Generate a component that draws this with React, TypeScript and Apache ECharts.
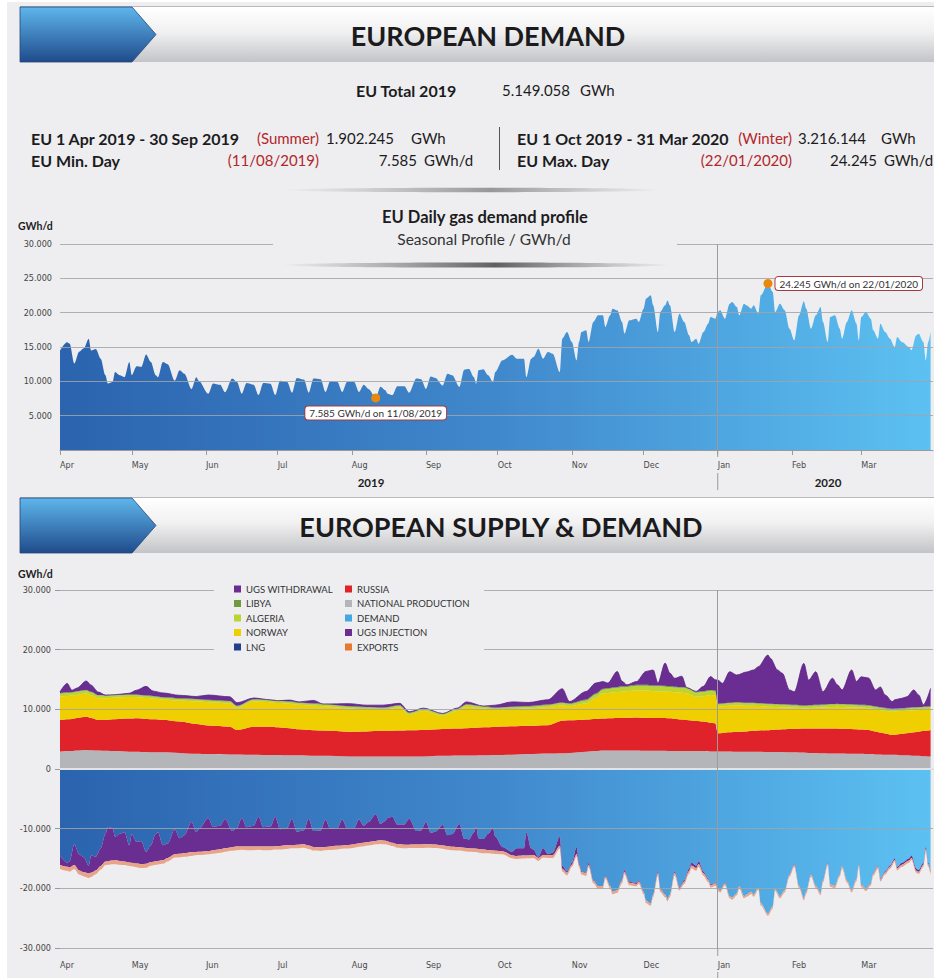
import React, { useEffect, useRef } from 'react';
import * as echarts from 'echarts';

// ---------------- DATA ----------------
// Daily EU gas demand (GWh/d), read from the seasonal profile
const demandDates = [
  '2019-04-01','2019-04-04','2019-04-05','2019-04-07','2019-04-09','2019-04-11','2019-04-13','2019-04-14','2019-04-16','2019-04-18','2019-04-20','2019-04-21','2019-04-23','2019-04-24','2019-04-26','2019-04-28','2019-04-30',
  '2019-05-01','2019-05-03','2019-05-05','2019-05-07','2019-05-09','2019-05-11','2019-05-12','2019-05-14','2019-05-16','2019-05-19','2019-05-21','2019-05-23','2019-05-26','2019-05-28','2019-05-29',
  '2019-06-02','2019-06-04','2019-06-07','2019-06-09','2019-06-12','2019-06-14','2019-06-16','2019-06-18','2019-06-21','2019-06-23','2019-06-25','2019-06-28','2019-06-30',
  '2019-07-02','2019-07-05','2019-07-07','2019-07-09','2019-07-12','2019-07-14','2019-07-16','2019-07-19','2019-07-21','2019-07-23','2019-07-26','2019-07-28','2019-07-30',
  '2019-08-02','2019-08-04','2019-08-06','2019-08-08','2019-08-11','2019-08-13','2019-08-15','2019-08-16','2019-08-18','2019-08-20','2019-08-23','2019-08-25','2019-08-28','2019-08-30',
  '2019-09-01','2019-09-03','2019-09-05','2019-09-08','2019-09-10','2019-09-12','2019-09-15','2019-09-17','2019-09-19','2019-09-21','2019-09-22','2019-09-23','2019-09-25','2019-09-27','2019-09-29','2019-09-30',
  '2019-10-03','2019-10-07','2019-10-09','2019-10-12','2019-10-13','2019-10-15','2019-10-16','2019-10-18','2019-10-20','2019-10-22','2019-10-24','2019-10-27','2019-10-28','2019-10-30',
  '2019-11-01','2019-11-03','2019-11-04','2019-11-05','2019-11-07','2019-11-08','2019-11-10','2019-11-12','2019-11-14','2019-11-15','2019-11-17','2019-11-18','2019-11-20','2019-11-22','2019-11-23','2019-11-25','2019-11-28','2019-11-29',
  '2019-12-01','2019-12-02','2019-12-04','2019-12-05','2019-12-07','2019-12-08','2019-12-10','2019-12-11','2019-12-12','2019-12-14','2019-12-16','2019-12-18','2019-12-20','2019-12-21','2019-12-23','2019-12-24','2019-12-26','2019-12-28','2019-12-29','2019-12-31',
  '2020-01-01','2020-01-02','2020-01-04','2020-01-06','2020-01-07','2020-01-09','2020-01-10','2020-01-12','2020-01-13','2020-01-15','2020-01-16','2020-01-18','2020-01-19','2020-01-22','2020-01-24','2020-01-25','2020-01-27','2020-01-29','2020-01-31',
  '2020-02-02','2020-02-04','2020-02-06','2020-02-07','2020-02-09','2020-02-11','2020-02-13','2020-02-14','2020-02-16','2020-02-17','2020-02-19','2020-02-21','2020-02-22','2020-02-24','2020-02-26','2020-02-28','2020-02-29',
  '2020-03-01','2020-03-03','2020-03-05','2020-03-06','2020-03-08','2020-03-09','2020-03-11','2020-03-13','2020-03-15','2020-03-16','2020-03-18','2020-03-21','2020-03-22','2020-03-24','2020-03-25','2020-03-27','2020-03-28','2020-03-29','2020-03-30',
];
const demandValues = [
  14500,15700,15500,12600,14300,14800,16200,14500,14700,13300,10900,9700,9900,11350,10870,10600,12800,
  10900,12200,12100,13900,12800,10900,10600,12800,12500,10100,11600,11100,8900,10600,10100,
  8200,9700,9500,8400,10400,9900,8200,9750,9500,8000,9750,9650,8000,
  10100,9900,8350,10500,10250,8350,10400,10300,8450,10050,9900,8450,9900,
  9900,8450,9500,8900,7585,9200,8700,8200,8000,9300,9300,8350,10400,10300,
  8900,10700,10500,9400,11100,10900,9200,11700,11800,10630,9660,11600,11750,10870,9900,11360,
  13060,13880,13300,13300,10630,13300,13540,14760,13300,14270,14030,11360,16210,17180,
  15730,13060,15730,17180,17430,15730,18640,19610,19610,17910,19610,20580,20340,18640,16940,18880,19120,18640,
  20580,22040,22520,21070,17180,20100,21070,21790,21070,17180,19850,18640,16700,15730,16210,15480,17180,18400,19370,19120,
  20100,20340,19120,21310,21550,20820,19610,21310,21070,20580,21070,19850,22520,24245,23010,20100,21310,20340,17670,
  15970,19610,21650,20580,17670,19610,20820,18640,15730,19370,19610,17670,16210,18640,20340,18400,15970,
  19370,20100,19120,17430,16210,18400,17180,16210,15000,16450,15730,15000,14510,16700,16940,15730,13060,15730,17180,
];
const injectionValues = [
  1600,700,1000,3500,2700,2500,1300,2900,2300,2950,4600,5750,5450,3950,4530,4900,2850,
  4800,3650,3850,2000,2800,4550,4800,2500,2400,4200,2600,3000,5070,3300,3780,
  5540,3900,3930,4900,2720,3100,4800,3250,3500,5000,3250,3350,4950,
  2790,2900,4390,2190,2350,4490,2680,2830,4610,2940,2980,4360,2840,
  2700,4030,2860,3340,4485,2760,3310,3930,4360,3290,3390,4330,2260,2340,
  3730,1910,2160,3430,1840,2130,3930,1500,1470,2710,3720,1820,1750,2710,3750,2330,
  740,560,1280,1210,3860,1140,880,150,1100,130,400,1500,500,200,
  300,1200,300,100,100,300,100,50,0,100,0,0,0,100,300,200,150,200,
  0,0,0,0,300,100,0,0,0,250,100,250,400,450,400,450,300,150,100,50,
  0,0,50,0,0,0,50,0,0,0,0,50,0,0,0,0,0,0,50,
  100,0,0,0,50,0,0,50,100,0,0,50,100,50,0,50,100,
  50,0,50,100,150,100,150,200,250,200,300,350,400,350,300,300,400,250,200,
];
const exportValues = [
  650,650,700,650,700,700,750,700,650,650,600,600,600,650,650,600,600,
  600,600,650,650,600,600,600,600,600,550,600,600,600,550,550,
  550,600,600,550,600,600,550,600,600,550,600,600,550,
  600,600,550,600,600,550,600,600,550,600,600,550,600,
  600,550,600,600,550,600,600,550,550,600,600,550,600,600,
  550,600,600,550,600,600,550,600,600,550,550,600,600,550,550,550,
  500,500,500,500,450,500,500,500,450,500,500,450,450,450,
  400,400,400,400,400,400,400,400,400,400,400,400,400,400,400,400,400,400,
  400,400,400,400,400,400,400,400,400,400,400,400,450,450,450,450,400,400,400,400,
  350,350,350,350,350,350,350,350,350,350,350,350,350,350,350,350,350,350,350,
  350,350,350,350,350,350,350,350,350,350,350,350,350,350,350,350,350,
  350,350,350,350,350,350,350,350,350,350,350,350,350,350,350,350,350,350,350,
];

// Supply components (GWh/d)
const supplyDates = [
  '2019-04-01','2019-04-04','2019-04-06','2019-04-08','2019-04-12','2019-04-14','2019-04-17','2019-04-20','2019-04-24','2019-04-30',
  '2019-05-03','2019-05-07','2019-05-10','2019-05-14','2019-05-21','2019-05-28',
  '2019-06-02','2019-06-11','2019-06-14','2019-06-21','2019-06-28',
  '2019-07-01','2019-07-06','2019-07-10','2019-07-16','2019-07-20','2019-07-31',
  '2019-08-07','2019-08-14','2019-08-21','2019-08-25','2019-08-31',
  '2019-09-08','2019-09-14','2019-09-18','2019-09-25','2019-09-30',
  '2019-10-07','2019-10-14','2019-10-22','2019-10-28','2019-10-31',
  '2019-11-07','2019-11-11','2019-11-14','2019-11-16','2019-11-20','2019-11-22','2019-11-24','2019-11-28',
  '2019-12-02','2019-12-05','2019-12-07','2019-12-10','2019-12-12','2019-12-14','2019-12-17','2019-12-19','2019-12-23','2019-12-26','2019-12-29','2019-12-31',
  '2020-01-01','2020-01-03','2020-01-06','2020-01-09','2020-01-13','2020-01-16','2020-01-18','2020-01-22','2020-01-23','2020-01-26','2020-01-28','2020-01-31',
  '2020-02-02','2020-02-06','2020-02-08','2020-02-11','2020-02-14','2020-02-18','2020-02-20','2020-02-22','2020-02-26','2020-02-28',
  '2020-03-01','2020-03-04','2020-03-07','2020-03-09','2020-03-11','2020-03-14','2020-03-15','2020-03-18','2020-03-20','2020-03-23','2020-03-25','2020-03-27','2020-03-30',
];
const nationalValues = [
  2900,3000,3000,3100,3200,3150,3100,3050,3000,2900,
  2900,2850,2800,2800,2700,2550,
  2500,2450,2450,2400,2350,
  2350,2300,2300,2200,2200,2100,
  2100,2100,2100,2100,2100,
  2200,2250,2250,2300,2350,
  2400,2500,2600,2650,2700,
  2900,3000,3100,3100,3100,3100,3100,3100,
  3050,3050,3050,3050,3000,3000,3000,3000,3000,3000,2950,2950,
  2950,2950,2950,2900,2900,2900,2900,2850,2850,2850,2850,2800,
  2800,2750,2700,2700,2650,2600,2600,2600,2550,2550,
  2550,2500,2450,2450,2400,2400,2400,2300,2300,2200,2200,2150,2100,
];
const russiaValues = [
  5300,5350,5400,5450,5550,5400,5100,5200,5350,5550,
  5600,5550,5550,5450,5250,5000,
  4800,4650,4100,4700,4750,
  4650,4550,4350,4300,4250,4150,
  4200,4300,4350,4400,4450,
  4500,4550,4600,4700,4700,
  4750,4750,4750,5450,5450,
  5400,5400,5350,5400,5450,5500,5500,5550,
  5550,5500,5500,5500,5500,5400,5300,5200,5050,4950,4800,4700,
  3050,3100,3200,3350,3400,3500,3550,3650,3700,3750,3800,3900,
  3950,4050,4100,4100,4150,4200,4200,4150,4150,4100,
  4050,4050,3850,3650,3550,3300,3350,3600,3700,3950,4050,4200,4450,
];
const lngValues: number[] = []; // not visible in the stacked profile
const norwayValues = [
  3900,3900,3900,3900,3900,3800,3650,3600,3600,3600,
  3550,3500,3450,3400,3500,3800,
  3900,3900,3650,4200,4100,
  4050,4100,4100,4100,4050,3900,
  3700,3500,3850,2550,3150,
  2200,2900,3600,3150,2850,
  2900,2900,3050,2600,2350,
  2700,3500,4250,4250,4350,4400,4450,4550,
  4550,4500,4500,4450,4450,4450,4500,4500,4050,4250,4650,4650,
  4450,4450,4450,4450,4300,4200,4100,3950,3900,3800,3700,3600,
  3500,3350,3400,3450,3500,3600,3650,3650,3650,3650,
  3650,3650,3700,3750,3800,3900,3900,3800,3750,3700,3650,3600,3450,
];
const algeriaValues = [
  500,500,500,500,500,500,450,400,400,350,
  350,350,350,300,300,300,
  300,300,300,300,300,
  300,300,300,300,300,300,
  300,300,300,300,300,
  300,300,300,300,300,
  300,300,300,350,400,
  500,600,600,650,700,700,700,750,
  800,800,800,800,800,800,800,800,700,700,700,700,
  400,400,400,400,400,400,400,400,400,400,400,400,
  400,400,400,400,400,400,400,400,400,400,
  400,400,400,400,400,400,400,400,400,400,400,400,400,
];
const libyaValues = [
  100,100,100,100,100,100,100,100,100,100,
  100,100,100,100,100,100,
  100,100,100,100,100,
  100,100,100,100,100,100,
  100,100,100,100,100,
  100,100,100,100,100,
  100,100,100,100,100,
  150,150,150,150,150,150,150,150,
  150,150,150,150,150,150,150,150,150,150,150,150,
  100,100,100,100,100,100,100,100,100,100,100,100,
  100,100,100,100,100,100,100,100,100,100,
  100,100,100,100,100,100,100,100,100,100,100,100,100,
];
const withdrawalValues = [
  250,1500,300,500,1500,1100,500,50,0,200,
  700,1500,800,700,500,400,
  800,700,500,200,0,
  0,200,100,500,0,400,
  300,400,300,150,100,
  0,100,400,0,400,
  800,600,800,2300,300,
  1350,1750,1200,850,2600,850,200,550,
  2250,2600,400,3800,2150,1400,1800,0,50,800,2250,1800,
  3950,3350,5200,4550,5150,5500,6100,8150,7600,5700,5200,2450,
  2200,7050,4200,5550,2150,4300,3150,2350,5750,3850,
  4700,4550,2750,3400,2150,1200,1450,1650,1850,2900,2000,300,3000,
];

const monthNames = ['Jan','Feb','Mar','Apr','May','Jun','Jul','Aug','Sep','Oct','Nov','Dec'];
const topGridValues = [5000, 10000, 15000, 20000, 25000, 30000];
const bottomGridValues = [-30000, -20000, -10000, 10000, 20000, 30000];
const legendLeft = ['UGS WITHDRAWAL', 'LIBYA', 'ALGERIA', 'NORWAY', 'LNG'];
const legendRight = ['RUSSIA', 'NATIONAL PRODUCTION', 'DEMAND', 'UGS INJECTION', 'EXPORTS'];

// ---------------- STYLE ----------------
const FONT = 'Lato, "Open Sans", sans-serif';
const NARROW = '"Liberation Sans Narrow", "Arial Narrow", "DejaVu Sans Condensed", Lato, sans-serif';
const BG = '#eeeef0';
const RED_TXT = '#b3262b';
const C = {
  purple: '#6a2d92',
  libya: '#6f9a3e',
  algeria: '#bcd431',
  norway: '#f0cf00',
  lng: '#223f8c',
  russia: '#e0232a',
  national: '#b4b5b8',
  demand: '#45a8e3',
  exports: '#e8782e',
};

const fmt = (v: number) => {
  const s = Math.abs(Math.round(v)).toString().replace(/\B(?=(\d{3})+(?!\d))/g, '.');
  return (v < 0 ? '-' : '') + s;
};
const dmy = (d: string) => {
  const [y, m, dd] = d.split('-');
  return `${dd}/${m}/${y}`;
};
const pairs = (dates: string[], vals: number[], sign = 1) => dates.map((d, i) => [d, sign * vals[i]]);

const blueGradient = () =>
  new echarts.graphic.LinearGradient(0, 0, 1, 0, [
    { offset: 0, color: '#2b63ae' },
    { offset: 0.5, color: '#4088cc' },
    { offset: 1, color: '#5cc1f2' },
  ]);

function buildOption() {
  let minIdx = 0;
  let maxIdx = 0;
  demandValues.forEach((v, i) => {
    if (v < demandValues[minIdx]) minIdx = i;
    if (v > demandValues[maxIdx]) maxIdx = i;
  });

  const gridLine = { color: '#a3a3a6', width: 1, type: 'solid' as const, opacity: 0.85 };
  const markLineBase = {
    silent: true,
    symbol: ['none', 'none'],
    label: { show: false },
    emphasis: { disabled: true },
    lineStyle: gridLine,
  };

  const xAxisBase = (gridIndex: number, margin: number) => ({
    type: 'time' as const,
    gridIndex,
    min: '2019-04-01',
    max: '2020-03-31',
    minInterval: 28 * 86400000,
    maxInterval: 31 * 86400000,
    splitLine: { show: false },
    axisLine: { show: true, lineStyle: { color: '#9a9a9c' } },
    axisTick: { show: true, length: 5, lineStyle: { color: '#9a9a9c' } },
    axisLabel: {
      show: true,
      showMaxLabel: false,
      align: 'left' as const,
      margin,
      fontSize: 9,
      fontFamily: NARROW,
      color: '#4a4a4a',
      formatter: (v: number) => monthNames[new Date(v).getMonth()],
    },
  });

  const areaSeries = (name: string, dates: string[], vals: number[], color: string, stack: string | undefined, sign = 1, extra: any = {}) => ({
    type: 'line',
    name,
    xAxisIndex: 1,
    yAxisIndex: 1,
    stack,
    data: pairs(dates, vals, sign),
    smooth: 0.3,
    smoothMonotone: 'x',
    symbol: 'none',
    showSymbol: false,
    itemStyle: { color },
    lineStyle: { width: 0, color },
    areaStyle: { color, opacity: 1 },
    emphasis: { disabled: true },
    ...extra,
  });

  const legendBase = {
    orient: 'vertical',
    top: 579,
    z: 30,
    icon: 'rect',
    itemWidth: 7,
    itemHeight: 7,
    itemGap: 4.5,
    selectedMode: false,
    textStyle: { fontSize: 9.5, lineHeight: 10, color: '#333', fontFamily: FONT },
  };

  return {
    animation: false,
    backgroundColor: BG,
    textStyle: { fontFamily: FONT },
    grid: [
      { left: 60, top: 244, width: 873, height: 206 },
      { left: 60, top: 590, width: 873, height: 358 },
    ],
    xAxis: [xAxisBase(0, 10), xAxisBase(1, 12)],
    yAxis: [
      {
        type: 'value',
        gridIndex: 0,
        min: 0,
        max: 30000,
        interval: 5000,
        splitLine: { show: false },
        axisLine: { show: false },
        axisTick: { show: false },
        axisLabel: {
          margin: 8,
          fontSize: 9,
          fontFamily: NARROW,
          color: '#444',
          formatter: (v: number) => (v === 0 ? '' : fmt(v)),
        },
      },
      {
        type: 'value',
        gridIndex: 1,
        min: -30000,
        max: 30000,
        interval: 10000,
        splitLine: { show: false },
        axisLine: { show: false },
        axisTick: { show: true, length: 5, lineStyle: { color: '#9a9a9c' } },
        axisLabel: {
          margin: 9,
          fontSize: 9,
          fontFamily: NARROW,
          color: '#444',
          formatter: (v: number) => fmt(v),
        },
      },
    ],
    legend: [
      { ...legendBase, data: legendLeft, left: 229 },
      { ...legendBase, data: legendRight, left: 340 },
    ],
    series: [
      {
        type: 'line',
        name: 'EU daily demand',
        xAxisIndex: 0,
        yAxisIndex: 0,
        data: pairs(demandDates, demandValues),
        smooth: 0.3,
        smoothMonotone: 'x',
        symbol: 'none',
        lineStyle: { width: 0 },
        areaStyle: { color: blueGradient(), opacity: 1 },
        emphasis: { disabled: true },
        markLine: {
          ...markLineBase,
          data: [
            ...topGridValues.map((v) => ({ yAxis: v })),
            { xAxis: '2020-01-01', lineStyle: { color: '#9b9b9d', width: 1, opacity: 1 } },
          ],
        },
        markPoint: {
          silent: true,
          symbol: 'circle',
          symbolSize: 9,
          itemStyle: { color: '#e8890c' },
          label: {
            show: true,
            color: '#333',
            fontSize: 10,
            fontFamily: FONT,
            backgroundColor: '#ffffff',
            borderColor: '#a8383e',
            borderWidth: 1,
            borderRadius: 3,
            padding: [2, 4, 1, 4],
          },
          data: [
            {
              coord: [demandDates[minIdx], demandValues[minIdx]],
              label: { position: 'bottom', distance: 4, formatter: `${fmt(demandValues[minIdx])} GWh/d on ${dmy(demandDates[minIdx])}` },
            },
            {
              coord: [demandDates[maxIdx], demandValues[maxIdx]],
              label: { position: 'right', distance: 3, formatter: `${fmt(demandValues[maxIdx])} GWh/d on ${dmy(demandDates[maxIdx])}` },
            },
          ],
        },
      },
      // negative side: demand, injection, exports
      areaSeries('DEMAND', demandDates, demandValues, C.demand, 'out', -1, {
        areaStyle: { color: blueGradient(), opacity: 1 },
      }),
      areaSeries('UGS INJECTION', demandDates, injectionValues, C.purple, 'out', -1),
      areaSeries('EXPORTS', demandDates, exportValues, C.exports, 'out', -1, {
        areaStyle: { color: '#e9a386', opacity: 1 },
      }),
      // positive side: supply
      areaSeries('NATIONAL PRODUCTION', supplyDates, nationalValues, C.national, 'in'),
      areaSeries('RUSSIA', supplyDates, russiaValues, C.russia, 'in'),
      areaSeries('LNG', supplyDates, lngValues, C.lng, undefined),
      areaSeries('NORWAY', supplyDates, norwayValues, C.norway, 'in'),
      areaSeries('ALGERIA', supplyDates, algeriaValues, C.algeria, 'in'),
      areaSeries('LIBYA', supplyDates, libyaValues, C.libya, 'in'),
      areaSeries('UGS WITHDRAWAL', supplyDates, withdrawalValues, C.purple, 'in', 1, {
        lineStyle: { width: 0.8, color: '#5a2381' },
        markLine: {
          ...markLineBase,
          data: [
            ...bottomGridValues.map((v) => ({ yAxis: v })),
            { yAxis: 0, lineStyle: { color: '#e4e4e7', width: 2, opacity: 1 } },
            { xAxis: '2020-01-01', lineStyle: { color: '#9b9b9d', width: 1, opacity: 1 } },
          ],
        },
      }),
    ],
  };
}

function header(y: number, title: string, cx: number, id: string) {
  return [
    {
      id: id + '-bar',
      type: 'rect',
      z: 10,
      shape: { x: 20, y, width: 914, height: 55 },
      style: {
        fill: new echarts.graphic.LinearGradient(0, 0, 0, 1, [
          { offset: 0, color: '#ffffff' },
          { offset: 0.45, color: '#f1f1f2' },
          { offset: 1, color: '#c3c4c7' },
        ]),
      },
    },
    {
      id: id + '-topline',
      type: 'line',
      z: 11,
      shape: { x1: 20, y1: y - 0.5, x2: 934, y2: y - 0.5 },
      style: { stroke: '#b9b9bc', lineWidth: 1 },
    },
    {
      id: id + '-arrow',
      type: 'polygon',
      z: 11,
      shape: { points: [[20, y], [132, y], [156, y + 27.5], [132, y + 55], [20, y + 55]] },
      style: {
        fill: new echarts.graphic.LinearGradient(0, 0, 0, 1, [
          { offset: 0, color: '#5fb6ec' },
          { offset: 1, color: '#1f4b8b' },
        ]),
        stroke: '#24467c',
        lineWidth: 0.8,
      },
    },
    {
      id: id + '-title',
      type: 'text',
      z: 12,
      x: cx,
      y: y + 28,
      style: {
        text: title,
        fill: '#1b1b1d',
        font: `bold 27px ${FONT}`,
        textAlign: 'center',
        textVerticalAlign: 'middle',
      },
    },
  ];
}

function txt(id: string, text: string, x: number, y: number, opts: any = {}) {
  return {
    id,
    type: 'text',
    z: 20,
    x,
    y,
    style: {
      text,
      fill: opts.fill || '#1c1c1e',
      font: `${opts.bold ? 'bold ' : ''}${opts.size || 15}px ${opts.family || FONT}`,
      textAlign: opts.align || 'left',
      textVerticalAlign: 'middle',
    },
  };
}

function swoosh(id: string, cx: number, cy: number, rx: number, ry: number, alpha: number) {
  return {
    id,
    type: 'ellipse',
    z: 9,
    shape: { cx, cy, rx, ry },
    style: {
      fill: new echarts.graphic.LinearGradient(0, 0, 1, 0, [
        { offset: 0, color: 'rgba(110,110,112,0)' },
        { offset: 0.55, color: `rgba(80,80,82,${alpha})` },
        { offset: 1, color: 'rgba(110,110,112,0)' },
      ]),
    },
  };
}

function buildGraphics(jx: number) {
  const B = 16;
  const N = 15;
  return [
    { id: 'edge-l', type: 'rect', z: 1, shape: { x: 0, y: 0, width: 7, height: 978 }, style: { fill: '#ffffff' } },
    { id: 'edge-t', type: 'rect', z: 1, shape: { x: 0, y: 0, width: 934, height: 2 }, style: { fill: '#ffffff' } },
    ...header(7, 'EUROPEAN DEMAND', 488, 'h1'),
    ...header(498, 'EUROPEAN SUPPLY & DEMAND', 501, 'h2'),
    // stats
    txt('t-total', 'EU Total 2019', 356, 90, { bold: true, size: B }),
    txt('t-total-v', '5.149.058', 502, 90, { size: N }),
    txt('t-total-u', 'GWh', 580, 90, { size: N }),
    txt('t-sum', 'EU 1 Apr 2019 - 30 Sep 2019', 31, 138, { bold: true, size: B }),
    txt('t-sum-r', '(Summer)', 319, 138, { size: N, fill: RED_TXT, align: 'right' }),
    txt('t-sum-v', '1.902.245', 326, 138, { size: N }),
    txt('t-sum-u', 'GWh', 411, 138, { size: N }),
    txt('t-min', 'EU Min. Day', 31, 160, { bold: true, size: B }),
    txt('t-min-r', '(11/08/2019)', 319, 160, { size: N, fill: RED_TXT, align: 'right' }),
    txt('t-min-v', '7.585', 417, 160, { size: N, align: 'right' }),
    txt('t-min-u', 'GWh/d', 424, 160, { size: N }),
    txt('t-win', 'EU 1 Oct 2019 - 31 Mar 2020', 517, 138, { bold: true, size: B }),
    txt('t-win-r', '(Winter)', 792, 138, { size: N, fill: RED_TXT, align: 'right' }),
    txt('t-win-v', '3.216.144', 798, 138, { size: N }),
    txt('t-win-u', 'GWh', 881, 138, { size: N }),
    txt('t-max', 'EU Max. Day', 517, 160, { bold: true, size: B }),
    txt('t-max-r', '(22/01/2020)', 792, 160, { size: N, fill: RED_TXT, align: 'right' }),
    txt('t-max-v', '24.245', 877, 160, { size: N, align: 'right' }),
    txt('t-max-u', 'GWh/d', 884, 160, { size: N }),
    { id: 'sep', type: 'line', z: 20, shape: { x1: 499.5, y1: 127, x2: 499.5, y2: 170 }, style: { stroke: '#555', lineWidth: 1 } },
    swoosh('sw1', 472, 190, 190, 2.2, 0.55),
    // top chart title block
    { id: 'gap-top', type: 'rect', z: 15, shape: { x: 273, y: 238, width: 404, height: 12 }, style: { fill: BG } },
    txt('c-title', 'EU Daily gas demand profile', 485, 217, { bold: true, size: 16.5, align: 'center' }),
    txt('c-sub', 'Seasonal Profile / GWh/d', 484, 239, { size: 15.5, fill: '#333', align: 'center' }),
    swoosh('sw2', 476, 265, 195, 2.6, 0.9),
    txt('u-top', 'GWh/d', 18, 226, { bold: true, size: 10.5 }),
    txt('y2019', '2019', 371, 482, { bold: true, size: 11.5, align: 'center' }),
    txt('y2020', '2020', 828, 482, { bold: true, size: 11.5, align: 'center' }),
    { id: 'jan-t1', type: 'line', z: 15, shape: { x1: jx, y1: 450, x2: jx, y2: 457 }, style: { stroke: '#9b9b9d', lineWidth: 1 } },
    { id: 'jan-t2', type: 'line', z: 15, shape: { x1: jx, y1: 473, x2: jx, y2: 490 }, style: { stroke: '#9b9b9d', lineWidth: 1 } },
    // bottom chart
    { id: 'gap-legend', type: 'rect', z: 15, shape: { x: 214, y: 582, width: 270, height: 75 }, style: { fill: BG } },
    txt('u-bot', 'GWh/d', 18, 574, { bold: true, size: 10.5 }),
    { id: 'jan-b1', type: 'line', z: 15, shape: { x1: jx, y1: 948, x2: jx, y2: 956 }, style: { stroke: '#9b9b9d', lineWidth: 1 } },
    { id: 'jan-b2', type: 'line', z: 15, shape: { x1: jx, y1: 972, x2: jx, y2: 978 }, style: { stroke: '#9b9b9d', lineWidth: 1 } },
  ];
}

export default function App() {
  const ref = useRef<HTMLDivElement>(null);
  useEffect(() => {
    if (!ref.current) return;
    const chart = echarts.init(ref.current, null, { renderer: 'svg' });
    chart.setOption(buildOption() as any);
    const jx = chart.convertToPixel({ xAxisIndex: 0 } as any, +new Date(2020, 0, 1)) as number;
    chart.setOption({ graphic: { elements: buildGraphics(jx) } } as any);
    return () => chart.dispose();
  }, []);
  return <div ref={ref} style={{ position: 'absolute', left: 0, top: 0, width: 934, height: 978 }} />;
}
